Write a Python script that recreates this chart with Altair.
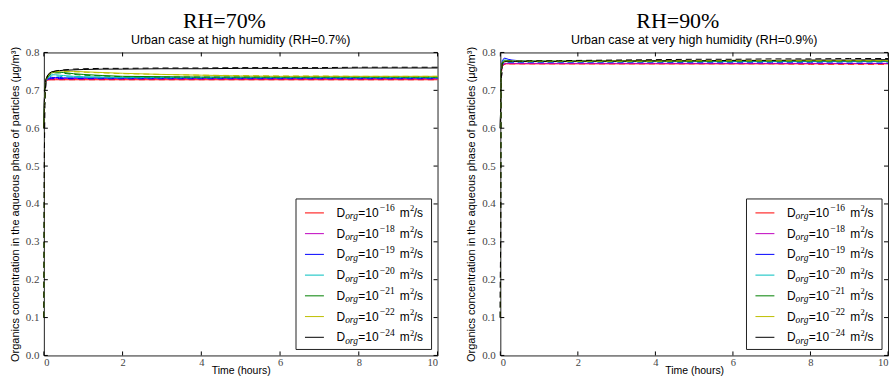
import altair as alt
import pandas as pd

# ---------------- data ----------------
t = [0, 0.02, 0.05, 0.1, 0.15, 0.2, 0.3, 0.4, 0.5, 0.75, 1, 1.5, 2, 3, 4, 5, 6, 7, 8, 9, 10]

series_names = ["1e-16", "1e-18", "1e-19", "1e-20", "1e-21", "1e-22", "1e-24"]
exp_labels = ["\u221216", "\u221218", "\u221219", "\u221220", "\u221221", "\u221222", "\u221224"]
colors = ["#ff0000", "#bf00bf", "#0000ff", "#00bfbf", "#008000", "#bfbf00", "#000000"]

# RH = 70 %, solid lines
red_70 = [0.60, 0.70, 0.722, 0.727, 0.728, 0.728, 0.728, 0.728, 0.728, 0.728, 0.728, 0.728, 0.728, 0.728, 0.728, 0.728, 0.728, 0.728, 0.728, 0.728, 0.728]
mag_70 = [0.60, 0.70, 0.724, 0.729, 0.730, 0.731, 0.731, 0.731, 0.731, 0.731, 0.731, 0.731, 0.731, 0.731, 0.731, 0.731, 0.731, 0.731, 0.731, 0.731, 0.731]
blue_70 = [0.60, 0.70, 0.725, 0.731, 0.733, 0.734, 0.734, 0.734, 0.733, 0.733, 0.733, 0.733, 0.733, 0.733, 0.733, 0.733, 0.733, 0.733, 0.733, 0.733, 0.733]
cyan_70 = [0.60, 0.70, 0.726, 0.735, 0.739, 0.741, 0.741, 0.740, 0.739, 0.737, 0.736, 0.735, 0.734, 0.734, 0.734, 0.734, 0.734, 0.734, 0.734, 0.734, 0.734]
green_70 = [0.60, 0.70, 0.727, 0.738, 0.743, 0.746, 0.748, 0.748, 0.747, 0.744, 0.742, 0.739, 0.737, 0.736, 0.735, 0.735, 0.735, 0.735, 0.735, 0.735, 0.735]
yel_70 = [0.60, 0.70, 0.728, 0.740, 0.745, 0.748, 0.750, 0.751, 0.751, 0.750, 0.749, 0.747, 0.745, 0.742, 0.740, 0.738, 0.737, 0.737, 0.737, 0.737, 0.737]
blk_70 = [0.60, 0.70, 0.729, 0.741, 0.746, 0.749, 0.751, 0.752, 0.753, 0.754, 0.755, 0.756, 0.756, 0.757, 0.757, 0.758, 0.758, 0.758, 0.759, 0.759, 0.759]

# RH = 70 %, dashed lines
red_70d = [0.10, 0.66, 0.718, 0.726, 0.728, 0.728, 0.728, 0.728, 0.728, 0.728, 0.728, 0.728, 0.728, 0.728, 0.728, 0.728, 0.728, 0.728, 0.728, 0.728, 0.728]
mag_70d = [0.10, 0.66, 0.720, 0.728, 0.730, 0.730, 0.730, 0.730, 0.730, 0.730, 0.730, 0.730, 0.730, 0.730, 0.730, 0.730, 0.730, 0.730, 0.730, 0.730, 0.730]
blue_70d = [0.10, 0.66, 0.721, 0.729, 0.731, 0.731, 0.731, 0.731, 0.731, 0.731, 0.731, 0.731, 0.731, 0.731, 0.731, 0.731, 0.731, 0.731, 0.731, 0.731, 0.731]
cyan_70d = [0.10, 0.66, 0.722, 0.732, 0.736, 0.738, 0.738, 0.737, 0.736, 0.735, 0.734, 0.733, 0.733, 0.733, 0.733, 0.733, 0.733, 0.733, 0.733, 0.733, 0.733]
green_70d = [0.10, 0.66, 0.723, 0.735, 0.741, 0.744, 0.746, 0.746, 0.745, 0.742, 0.740, 0.738, 0.736, 0.735, 0.735, 0.735, 0.735, 0.735, 0.735, 0.735, 0.735]
yel_70d = [0.10, 0.66, 0.724, 0.737, 0.743, 0.746, 0.749, 0.750, 0.750, 0.749, 0.748, 0.746, 0.744, 0.742, 0.740, 0.739, 0.738, 0.738, 0.737, 0.737, 0.737]
blk_70d = [0.10, 0.66, 0.725, 0.739, 0.745, 0.748, 0.751, 0.753, 0.754, 0.756, 0.757, 0.758, 0.758, 0.759, 0.759, 0.760, 0.760, 0.760, 0.761, 0.761, 0.761]

# RH = 90 %, solid lines
red_90 = [0.60, 0.74, 0.765, 0.769, 0.770, 0.770, 0.770, 0.770, 0.770, 0.770, 0.770, 0.770, 0.770, 0.770, 0.770, 0.770, 0.770, 0.770, 0.770, 0.770, 0.770]
mag_90 = [0.60, 0.74, 0.766, 0.770, 0.771, 0.771, 0.771, 0.771, 0.771, 0.771, 0.771, 0.771, 0.771, 0.771, 0.771, 0.771, 0.771, 0.771, 0.771, 0.771, 0.771]
blue_90 = [0.60, 0.75, 0.778, 0.785, 0.784, 0.782, 0.780, 0.779, 0.778, 0.777, 0.777, 0.776, 0.776, 0.776, 0.776, 0.776, 0.776, 0.776, 0.776, 0.776, 0.776]
cyan_90 = [0.60, 0.75, 0.775, 0.780, 0.780, 0.779, 0.778, 0.777, 0.777, 0.777, 0.777, 0.777, 0.777, 0.777, 0.777, 0.777, 0.777, 0.777, 0.777, 0.777, 0.777]
green_90 = [0.60, 0.75, 0.774, 0.778, 0.778, 0.777, 0.777, 0.777, 0.777, 0.777, 0.777, 0.777, 0.777, 0.777, 0.777, 0.778, 0.778, 0.778, 0.778, 0.778, 0.778]
yel_90 = [0.60, 0.75, 0.773, 0.776, 0.777, 0.777, 0.777, 0.777, 0.777, 0.777, 0.777, 0.777, 0.777, 0.778, 0.778, 0.778, 0.779, 0.779, 0.779, 0.779, 0.779]
blk_90 = [0.60, 0.75, 0.772, 0.775, 0.776, 0.776, 0.776, 0.776, 0.776, 0.776, 0.776, 0.776, 0.777, 0.777, 0.778, 0.778, 0.779, 0.779, 0.780, 0.780, 0.781]

# RH = 90 %, dashed lines
red_90d = [0.10, 0.72, 0.764, 0.768, 0.769, 0.770, 0.770, 0.770, 0.770, 0.770, 0.770, 0.770, 0.770, 0.770, 0.770, 0.770, 0.770, 0.770, 0.769, 0.769, 0.769]
mag_90d = [0.10, 0.72, 0.765, 0.769, 0.770, 0.771, 0.771, 0.771, 0.771, 0.771, 0.771, 0.771, 0.771, 0.771, 0.771, 0.771, 0.771, 0.771, 0.771, 0.771, 0.771]
blue_90d = [0.10, 0.72, 0.767, 0.772, 0.773, 0.774, 0.774, 0.774, 0.774, 0.774, 0.774, 0.774, 0.774, 0.774, 0.774, 0.773, 0.773, 0.773, 0.773, 0.772, 0.772]
cyan_90d = [0.10, 0.72, 0.768, 0.773, 0.774, 0.775, 0.775, 0.775, 0.775, 0.775, 0.775, 0.775, 0.775, 0.775, 0.775, 0.775, 0.775, 0.775, 0.775, 0.775, 0.775]
green_90d = [0.10, 0.72, 0.769, 0.774, 0.775, 0.776, 0.776, 0.776, 0.776, 0.776, 0.776, 0.776, 0.776, 0.776, 0.776, 0.776, 0.777, 0.777, 0.777, 0.777, 0.777]
yel_90d = [0.10, 0.72, 0.770, 0.775, 0.776, 0.777, 0.777, 0.777, 0.777, 0.777, 0.777, 0.777, 0.777, 0.777, 0.777, 0.778, 0.778, 0.778, 0.778, 0.778, 0.778]
blk_90d = [0.10, 0.72, 0.771, 0.776, 0.777, 0.777, 0.777, 0.777, 0.777, 0.778, 0.778, 0.778, 0.779, 0.780, 0.781, 0.782, 0.782, 0.783, 0.783, 0.784, 0.784]

x_ticks = [0, 2, 4, 6, 8, 10]
y_ticks = [0.0, 0.1, 0.2, 0.3, 0.4, 0.5, 0.6, 0.7, 0.8]

panel_70 = {"solid": [red_70, mag_70, blue_70, cyan_70, green_70, yel_70, blk_70],
            "dashed": [red_70d, mag_70d, blue_70d, cyan_70d, green_70d, yel_70d, blk_70d]}
panel_90 = {"solid": [red_90, mag_90, blue_90, cyan_90, green_90, yel_90, blk_90],
            "dashed": [red_90d, mag_90d, blue_90d, cyan_90d, green_90d, yel_90d, blk_90d]}


def to_df(panel):
    rows = []
    for style, lists in panel.items():
        for name, vals in zip(series_names, lists):
            for tt, vv in zip(t, vals):
                rows.append({"style": style, "series": name, "t": tt, "v": vv})
    return pd.DataFrame(rows)


legend_df = pd.DataFrame({"idx": list(range(len(series_names))), "series": series_names, "expo": exp_labels})
xtick_df = pd.DataFrame({"xt": x_ticks})
ytick_df = pd.DataFrame({"yt": y_ticks})
one_df = pd.DataFrame({"a": [0]})

SANS = "Liberation Sans"
SERIF = "Liberation Serif"
YTITLE = "Organics concentration in the aqueous phase of particles (\u03bcg/m\u00b3)"


def make_panel(panel, W, H, sub, main):
    df = to_df(panel)
    xs = alt.Scale(domain=[0, 10], nice=False, zero=False)
    ys = alt.Scale(domain=[0, 0.8], nice=False)
    color = alt.Color("series:N", scale=alt.Scale(domain=series_names, range=colors), legend=None)

    xaxis = alt.Axis(values=x_ticks, format="d", title="Time (hours)", labelFont=SERIF,
                     labelFontSize=10.5, labelColor="#444", ticks=False, domain=False, grid=False,
                     labelPadding=2, titleFont=SANS, titleFontSize=10.5, titleFontWeight="normal",
                     titleColor="black", titlePadding=-2)
    yaxis = alt.Axis(values=y_ticks, format=".1f", title=YTITLE, labelFont=SERIF,
                     labelFontSize=11, labelColor="#444", ticks=False, domain=False, grid=False,
                     labelPadding=5, titleFont=SANS, titleFontSize=11, titleFontWeight="normal",
                     titleColor="black", titlePadding=5)

    def X(f):
        return alt.X(f, scale=xs, axis=xaxis)

    def Y(f):
        return alt.Y(f, scale=ys, axis=yaxis)

    solid = alt.Chart(df).transform_filter("datum.style == 'solid'").mark_line(
        strokeWidth=1).encode(x=X("t:Q"), y=Y("v:Q"), color=color, detail="series:N")
    dashed = alt.Chart(df).transform_filter("datum.style == 'dashed'").mark_line(
        strokeWidth=1, strokeDash=[6, 4]).encode(x=X("t:Q"), y=Y("v:Q"), color=color,
                                                  detail="series:N")

    tk = 4
    yl = alt.Chart(ytick_df).mark_rule(color="black", strokeWidth=1).encode(
        y=Y("yt:Q"), x=alt.value(0), x2=alt.value(tk))
    yr = alt.Chart(ytick_df).mark_rule(color="black", strokeWidth=1).encode(
        y=Y("yt:Q"), x=alt.value(W - tk), x2=alt.value(W))
    xb = alt.Chart(xtick_df).mark_rule(color="black", strokeWidth=1).encode(
        x=X("xt:Q"), y=alt.value(H - tk), y2=alt.value(H))
    xt = alt.Chart(xtick_df).mark_rule(color="black", strokeWidth=1).encode(
        x=X("xt:Q"), y=alt.value(0), y2=alt.value(tk))

    # legend box
    bx0 = W - 142
    box = alt.Chart(one_df).mark_rect(fill="white", stroke="#222", strokeWidth=1).encode(
        x=alt.value(bx0), x2=alt.value(W - 6), y=alt.value(H - 157), y2=alt.value(H - 6))
    y0 = 0.8 * (H - 161) / H
    dy = 0.8 * 20.8 / H
    leg = alt.Chart(legend_df).transform_calculate(ly=f"{y0} - datum.idx * {dy}")
    lines = leg.mark_rule(strokeWidth=1).encode(
        x=alt.value(bx0 + 9), x2=alt.value(bx0 + 28), y=Y("ly:Q"), color=color)
    tx = bx0 + 40.7
    pieces = [
        (alt.value("D"), 0, 0, 12, "normal", SANS),
        (alt.value("org"), 8.6, 3.5, 9.5, "italic", SERIF),
        (alt.value("=10"), 21.8, 0, 12, "normal", SANS),
        (alt.Text("expo:N"), 43.4, -4.5, 9.5, "normal", SERIF),
        (alt.value("m"), 63.3, 0, 12, "normal", SANS),
        (alt.value("2"), 73.6, -4.5, 8.5, "normal", SERIF),
        (alt.value("/s"), 77.5, 0, 12, "normal", SANS),
    ]
    texts = []
    for txt, off, ddy, fs, style, font in pieces:
        texts.append(leg.mark_text(align="left", baseline="middle", dy=ddy, fontSize=fs,
                                   fontStyle=style, font=font, color="black").encode(
            x=alt.value(tx + off), y=Y("ly:Q"), text=txt))

    layered = alt.layer(solid, dashed, yl, yr, xb, xt, box, lines, *texts).properties(
        width=W, height=H,
        title=alt.TitleParams(sub, font=SANS, fontSize=12.5, fontWeight="normal",
                              anchor="middle", offset=0, color="black"))
    return alt.vconcat(layered, title=alt.TitleParams(
        main, font=SERIF, fontSize=22, fontWeight="normal", anchor="middle",
        frame="bounds", offset=0, color="black"))


left = make_panel(panel_70, 395, 304, "Urban case at high humidity (RH=0.7%)", "RH=70%")
right = make_panel(panel_90, 389, 304, "Urban case at very high humidity (RH=0.9%)", "RH=90%")

chart = alt.hconcat(left, right, spacing=24).properties(
    padding={"left": 8, "top": 9, "right": 0, "bottom": 0}, background="white"
).configure_view(stroke="#222", strokeWidth=1).configure_axis(
    grid=False, labelFont=SERIF)

chart.save("out.html", embed_options={"renderer": "svg", "actions": False})
